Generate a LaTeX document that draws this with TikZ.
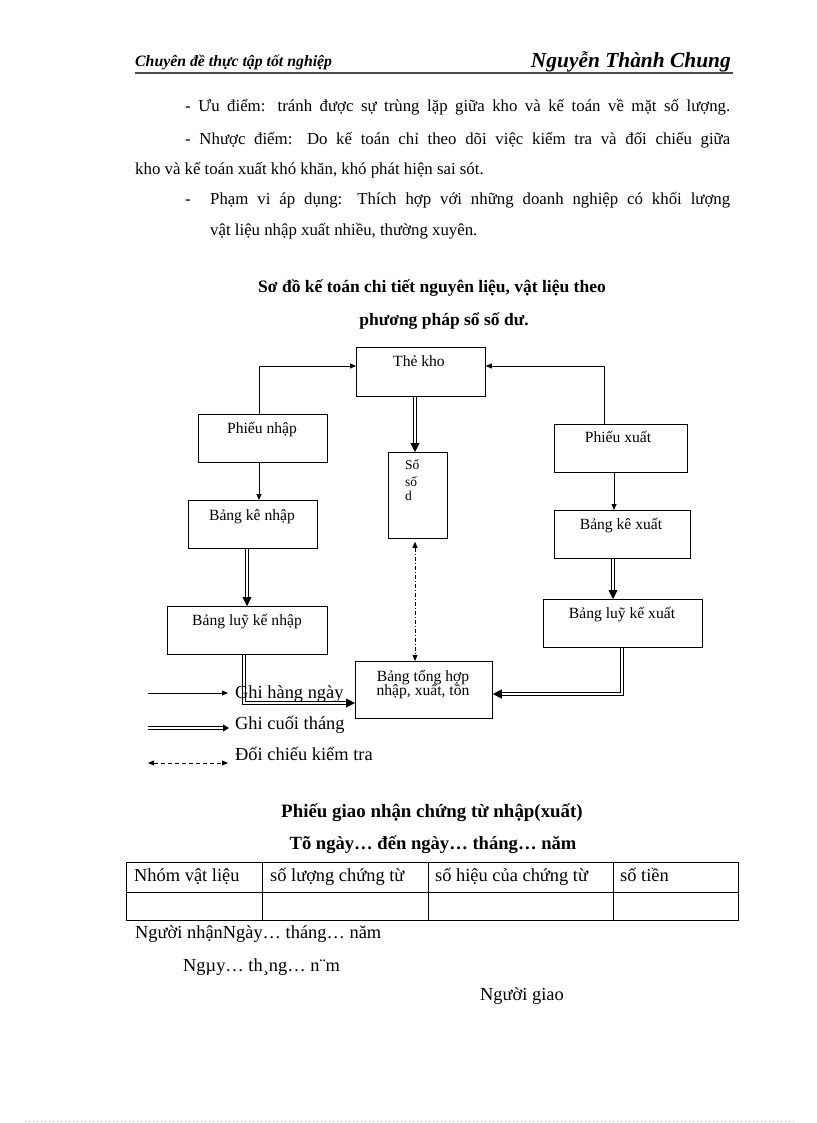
\documentclass[tikz,border=0pt]{standalone}
\usepackage{fontspec}
\setmainfont{Liberation Serif}
\usetikzlibrary{arrows.meta}
\begin{document}
\begin{tikzpicture}[x=1pt,y=-1pt,
  body/.style={font=\fontsize{16.8}{20}\selectfont, inner sep=0pt},
  big/.style={font=\fontsize{18.4}{20}\selectfont, inner sep=0pt},
  small/.style={font=\fontsize{15.6}{17}\selectfont, inner sep=0pt, anchor=base},
  tiny/.style={font=\fontsize{13.5}{15}\selectfont, inner sep=0pt, anchor=base west},
  box/.style={draw, line width=0.8pt, anchor=north west, inner sep=0pt},
  thin/.style={draw, line width=0.8pt, -{Triangle[length=6pt,width=5pt]}},
  dbl/.style={draw, line width=0.9pt, double distance=1.6pt, -{Triangle[length=9pt,width=9pt]}},
  chk/.style={draw, line width=0.8pt, {Triangle[length=6pt,width=5pt]}-{Triangle[length=6pt,width=5pt]}},
]
\useasboundingbox (0,0) rectangle (816,1123);
\fill[white] (0,0) rectangle (816,1123);

% header
\node[anchor=base west, inner sep=0pt, font=\fontsize{15.8}{17}\selectfont\bfseries\itshape] (hl) at (135,67) {Chuyên đề thực tập tốt nghiệp};
\node[anchor=base east, inner sep=0pt, font=\fontsize{21.4}{24}\selectfont\bfseries\itshape] (hr) at (731,68) {Nguyễn Thành Chung};
\draw[line width=1.1pt, black!70] (135,73) -- (733,73);

% body text
\node[body, anchor=base west] (p1) at (185,112) {\makebox[545pt][s]{- Ưu điểm: tránh được sự trùng lặp giữa kho và kế toán về mặt số lượng.}};
\node[body, anchor=base west] (p2) at (185,145) {\makebox[545pt][s]{- Nhược điểm: Do kế toán chỉ theo dõi việc kiểm tra và đối chiếu giữa}};
\node[body, anchor=base west] (p3) at (135,175) {kho và kế toán xuất khó khăn, khó phát hiện sai sót.};
\node[body, anchor=base west] (p4d) at (185,205) {-};
\node[body, anchor=base west] (p4) at (210,205) {\makebox[520pt][s]{Phạm vi áp dụng: Thích hợp với những doanh nghiệp có khối lượng}};
\node[body, anchor=base west] (p5) at (210,236) {vật liệu nhập xuất nhiều, thường xuyên.};

% title
\node[anchor=base, inner sep=0pt, font=\fontsize{17.5}{20}\selectfont\bfseries] (t1) at (432,292) {Sơ đồ kế toán chi tiết nguyên liệu, vật liệu theo};
\node[anchor=base, inner sep=0pt, font=\fontsize{17.5}{20}\selectfont\bfseries] (t2) at (444,325) {phương pháp sổ số dư.};

% boxes
\node[box, minimum width=129, minimum height=49] (thekho) at (356,347) {};
\node[small] (thekhoT) at (419,366) {Thẻ kho};
\node[box, minimum width=129, minimum height=48] (pn) at (198,414) {};
\node[small] (pnT) at (262,433) {Phiếu nhập};
\node[box, minimum width=59, minimum height=86] (so) at (388,452) {};
\node[tiny] (soT1) at (405,469) {Sổ};
\node[tiny] (soT2) at (405,486) {số};
\node[tiny] (soT3) at (405,500) {d};
\node[box, minimum width=133, minimum height=48] (px) at (554,424) {};
\node[small] (pxT) at (618,442) {Phiếu xuất};
\node[box, minimum width=129, minimum height=48] (bkn) at (188,500) {};
\node[small] (bknT) at (252,520) {Bảng kê nhập};
\node[box, minimum width=136, minimum height=48] (bkx) at (554,510) {};
\node[small] (bkxT) at (621,529) {Bảng kê xuất};
\node[box, minimum width=160, minimum height=48] (lkn) at (167,606) {};
\node[small] (lknT) at (247,625) {Bảng luỹ kế nhập};
\node[box, minimum width=159, minimum height=48] (lkx) at (543,599) {};
\node[small] (lkxT) at (622,618) {Bảng luỹ kế xuất};
\node[box, minimum width=137, minimum height=57] (th) at (355,661) {};
\node[small] (thT1) at (423,681) {Bảng tổng hợp};
\node[small] (thT2) at (423,695) {nhập, xuất, tồn};

% connectors
\draw[thin] (pn.north -| 259,0) |- (thekho.west |- 0,366);
\draw[thin] (px.north -| 604,0) |- (thekho.east |- 0,366);
\draw[dbl] (thekho.south -| 415,0) -- (so.north -| 415,0);
\draw[thin] (pn.south -| 259,0) -- (bkn.north -| 259,0);
\draw[thin] (px.south -| 614,0) -- (bkx.north -| 614,0);
\draw[dbl] (bkn.south -| 247,0) -- (lkn.north -| 247,0);
\draw[dbl] (bkx.south -| 613,0) -- (lkx.north -| 613,0);
\draw[chk, dash pattern=on 4pt off 2pt on 1pt off 2pt, shorten <=3pt] (so.south -| 415,0) -- (th.north -| 415,0);
\draw[dbl] (lkn.south -| 244,0) |- (th.west |- 0,703);
\draw[dbl] (lkx.south -| 622,0) |- (th.east |- 0,694);

% legend
\coordinate (l1a) at (148,693); \coordinate (l1b) at (228,693);
\coordinate (l2a) at (148,728); \coordinate (l2b) at (229,728);
\coordinate (l3a) at (148,763); \coordinate (l3b) at (228,763);
\draw[thin] (l1a) -- (l1b);
\draw[line width=0.9pt, double distance=1.4pt, -{Triangle[length=6pt,width=7pt]}] (l2a) -- (l2b);
\draw[chk, dash pattern=on 4pt off 3pt] (l3a) -- (l3b);
\node[big, anchor=base west] (g1) at (235,698) {Ghi hàng ngày};
\node[big, anchor=base west] (g2) at (235,729) {Ghi cuối tháng};
\node[big, anchor=base west] (g3) at (235,760) {Đối chiếu kiểm tra};

% form
\node[anchor=base, inner sep=0pt, font=\fontsize{18.9}{20}\selectfont\bfseries] (f1) at (432,817) {Phiếu giao nhận chứng từ nhập(xuất)};
\node[anchor=base, inner sep=0pt, font=\fontsize{18.6}{20}\selectfont\bfseries] (f2) at (433,849) {Tõ ngày… đến ngày… tháng… năm};
\draw[line width=0.8pt] (126,862) rectangle (738,920);
\draw[line width=0.8pt] (126,892) -- (738,892);
\draw[line width=0.8pt] (262,862) -- (262,920);
\draw[line width=0.8pt] (428,862) -- (428,920);
\draw[line width=0.8pt] (613,862) -- (613,920);
\node[big, anchor=base west] (c1) at (134,881) {Nhóm vật liệu};
\node[big, anchor=base west] (c2) at (270,881) {số lượng chứng từ};
\node[big, anchor=base west] (c3) at (435,881) {số hiệu của chứng từ};
\node[big, anchor=base west] (c4) at (620,881) {số tiền};
\node[big, anchor=base west] (n1) at (135,938) {Người nhậnNgày… tháng… năm};
\node[big, anchor=base west] (n2) at (183,971) {Ngµy… th¸ng… n¨m};
\node[big, anchor=base west] (n3) at (480,1000) {Người giao};

\draw[black!30, line width=0.6pt, dash pattern=on 1pt off 3pt] (25,1121) -- (795,1121);
\end{tikzpicture}
\end{document}
